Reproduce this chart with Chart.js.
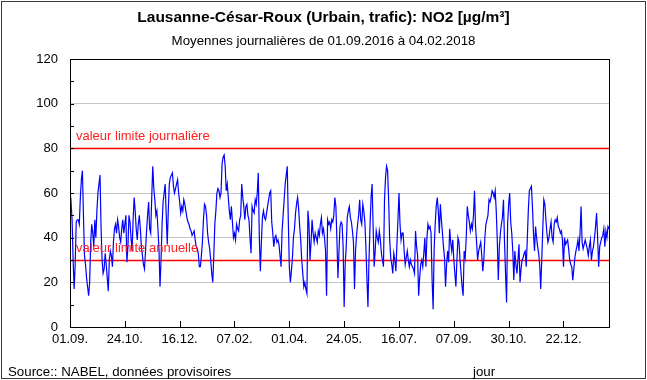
<!DOCTYPE html>
<html>
<head>
<meta charset="utf-8">
<script src="https://cdn.jsdelivr.net/npm/chart.js@4"></script>
<style>
  html,body{margin:0;padding:0;background:#fff;}
  #wrap{position:relative;width:647px;height:380px;overflow:hidden;background:#fff;}
  #c{position:absolute;left:0;top:0;}
  .txt{position:absolute;font-family:"Liberation Sans",Arial,sans-serif;color:#000;white-space:nowrap;}
  #frame{position:absolute;left:1px;top:1px;width:643px;height:376px;border:1px solid #3a3a3a;}
</style>
</head>
<body>
<div id="wrap">
  <canvas id="c" width="647" height="380"></canvas>
  <div id="frame"></div>
  <div class="txt" style="left:0;top:8px;width:647px;text-align:center;font-weight:bold;font-size:15.5px;line-height:18px;">Lausanne-César-Roux (Urbain, trafic): NO2 [µg/m³]</div>
  <div class="txt" style="left:0;top:33px;width:647px;text-align:center;font-size:13.3px;line-height:16px;">Moyennes journalières de 01.09.2016 à 04.02.2018</div>
  <div class="txt" style="left:8px;top:364px;font-size:13.3px;line-height:16px;">Source:: NABEL, données provisoires</div>
  <div class="txt" style="left:473px;top:364px;font-size:13.3px;line-height:16px;">jour</div>
</div>
<script>
// Daily NO2 means (µg/m³), 01.09.2016 .. 04.02.2018 (522 days)
const no2Sep16Nov16 = [
 53,56,48,30,17,28,47,48,48,46,58,66,70,50,32,28,22,18,14,20,
 38,46,42,36,48,40,52,60,64,68,45,30,24,26,33,28,22,16,30,34,
 32,27,38,44,46,42,48,45,40,38,44,48,42,46,50,29,36,50,47,40,
 34,48,58,52,44,39,46,50,44,36,32,28,26,34,43,50,56,44,42,58,
 72,62,57,50
];
const no2Nov16Feb17 = [
 52,44,35,18,30,46,56,60,64,50,37,52,64,67,68,69,63,60,62,64,
 66,60,56,51,54,52,57,55,52,49,47,46,44,43,41,42,43,39,36,35,
 33,27,27,32,38,48,55,54,50,42,38,35,30,24,20,32,46,52,60,62,
 61,58,60,73,76,77,72,61,64,58,52,48,54,47,40,42,39,46,44,43,
 48,50,64,58,54,48
];
const no2Feb17May17 = [
 54,55,50,48,40,33,54,52,51,57,55,60,69,40,25,38,49,52,49,48,
 51,54,57,60,61,47,42,36,40,41,38,39,37,32,27,43,50,57,64,68,
 72,48,27,20,25,31,40,44,51,55,58,53,45,39,30,24,18,20,17,15,
 52,46,30,38,48,42,38,42,40,38,43,41,46,49,42,44,40,34,14,48,
 46,47,44,48,47,50,58
];
const no2May17Aug17 = [
 54,39,22,34,45,47,46,36,9,28,36,49,52,54,49,47,43,38,17,34,
 41,46,50,57,48,46,55,52,47,36,22,9,30,45,58,64,45,27,34,43,
 40,38,43,39,33,30,27,57,67,72,70,57,39,31,28,24,33,30,25,37,
 48,60,46,39,42,42,34,28,31,34,30,27,30,28,27,26,24,43,36,32,
 14,22,28,30,27,33,40
];
const no2Aug17Nov17 = [
 27,40,46,44,45,42,21,8,35,46,54,58,52,42,55,48,42,36,31,18,
 28,34,29,44,38,34,39,30,24,18,30,40,38,30,24,18,14,34,31,40,
 54,50,47,43,46,44,50,61,45,38,30,34,36,38,32,25,30,40,46,48,
 50,57,56,58,61,60,58,61,52,39,21,36,42,46,49,57,38,24,11,46,
 55,60,47,42,34,21,34
];
const no2Nov17Feb18 = [
 28,24,30,37,20,26,30,31,33,34,27,39,52,61,62,63,54,42,34,45,
 40,36,33,28,17,30,44,57,55,48,42,38,40,44,47,40,38,46,48,47,
 49,45,44,42,43,39,27,40,37,38,39,35,30,28,27,21,26,31,34,36,
 39,34,42,54,38,35,37,39,37,35,32,36,39,30,34,36,40,45,51,40,
 27,36,38,40,41,44,36,43,40,45,44
];
const no2Values = [].concat(no2Sep16Nov16, no2Nov16Feb17, no2Feb17May17,
                            no2May17Aug17, no2Aug17Nov17, no2Nov17Feb18);

// x tick positions (day index from 01.09.2016) and their labels
const tickDays   = [0, 53, 106, 159, 212, 265, 318, 371, 424, 477];
const tickLabels = ['01.09.','24.10.','16.12.','07.02.','01.04.','24.05.','16.07.','07.09.','30.10.','22.12.'];
const lastDay = 521;

// y axis
const yMin = 0, yMax = 120, yStep = 10, yLabelStep = 20;

// limit values
const limitValues = [80, 30];
const limitLabels = ['valeur limite journalière', 'valeur limite annuelle'];

const FONT = '"Liberation Sans", Arial, sans-serif';

const decorPlugin = {
  id: 'decor',
  beforeDatasetsDraw(chart) {
    const {ctx, chartArea: a, scales: {y}} = chart;
    ctx.save();
    ctx.strokeStyle = '#ff0000';
    ctx.lineWidth = 1.3;
    limitValues.forEach(v => {
      const py = Math.round(y.getPixelForValue(v)) + 0.5;
      ctx.beginPath();
      ctx.moveTo(a.left, py);
      ctx.lineTo(a.right, py);
      ctx.stroke();
    });
    ctx.restore();
  },
  afterDatasetsDraw(chart) {
    const {ctx, chartArea: a, scales: {x, y}} = chart;
    ctx.save();
    // limit labels
    ctx.fillStyle = '#ff2020';
    ctx.font = '13px ' + FONT;
    ctx.textBaseline = 'alphabetic';
    ctx.textAlign = 'left';
    limitValues.forEach((v, i) => {
      ctx.fillText(limitLabels[i], a.left + 6, y.getPixelForValue(v) - 8);
    });
    // inner tick marks
    ctx.strokeStyle = '#000';
    ctx.lineWidth = 1;
    for (let v = yMin; v <= yMax; v += yStep) {
      const py = Math.round(y.getPixelForValue(v)) + 0.5;
      ctx.beginPath();
      ctx.moveTo(a.left, py);
      ctx.lineTo(a.left + 4, py);
      ctx.stroke();
    }
    tickDays.forEach(d => {
      const px = Math.round(x.getPixelForValue(d)) + 0.5;
      ctx.beginPath();
      ctx.moveTo(px, a.bottom);
      ctx.lineTo(px, a.bottom - 6);
      ctx.stroke();
    });
    // plot frame
    ctx.strokeRect(Math.round(a.left) + 0.5, Math.round(a.top) + 0.5,
                   Math.round(a.right - a.left), Math.round(a.bottom - a.top));
    ctx.restore();
  }
};

new Chart(document.getElementById('c'), {
  type: 'line',
  data: {
    datasets: [{
      data: no2Values.map((v, i) => ({x: i, y: v})),
      borderColor: '#0000ff',
      borderWidth: 1.2,
      pointRadius: 0,
      tension: 0,
      fill: false
    }]
  },
  options: {
    responsive: false,
    animation: false,
    devicePixelRatio: 1,
    layout: {padding: {top: 59, right: 38, left: 0, bottom: 0}},
    plugins: {legend: {display: false}, tooltip: {enabled: false}, title: {display: false}},
    scales: {
      x: {
        type: 'linear',
        min: 0,
        max: lastDay,
        afterBuildTicks: s => { s.ticks = tickDays.map(v => ({value: v})); },
        afterFit: s => { s.height = 53; },
        ticks: {
          autoSkip: false,
          maxRotation: 0,
          padding: 5,
          color: '#000',
          font: {family: FONT, size: 13},
          callback: v => { const i = tickDays.indexOf(v); return i >= 0 ? tickLabels[i] : ''; }
        },
        grid: {display: false, drawTicks: false},
        border: {display: false}
      },
      y: {
        min: yMin,
        max: yMax,
        afterFit: s => { s.width = 70; },
        ticks: {
          stepSize: yStep,
          padding: 12,
          color: '#000',
          font: {family: FONT, size: 13},
          callback: v => (v % yLabelStep === 0 ? String(v) : '')
        },
        grid: {
          drawTicks: false,
          lineWidth: 1,
          color: c => {
            const v = c.tick ? c.tick.value : -1;
            return (v > yMin && v < yMax && v % yLabelStep === 0) ? '#c4c4c4' : 'rgba(0,0,0,0)';
          }
        },
        border: {display: false}
      }
    }
  },
  plugins: [decorPlugin]
});
</script>
</body>
</html>
